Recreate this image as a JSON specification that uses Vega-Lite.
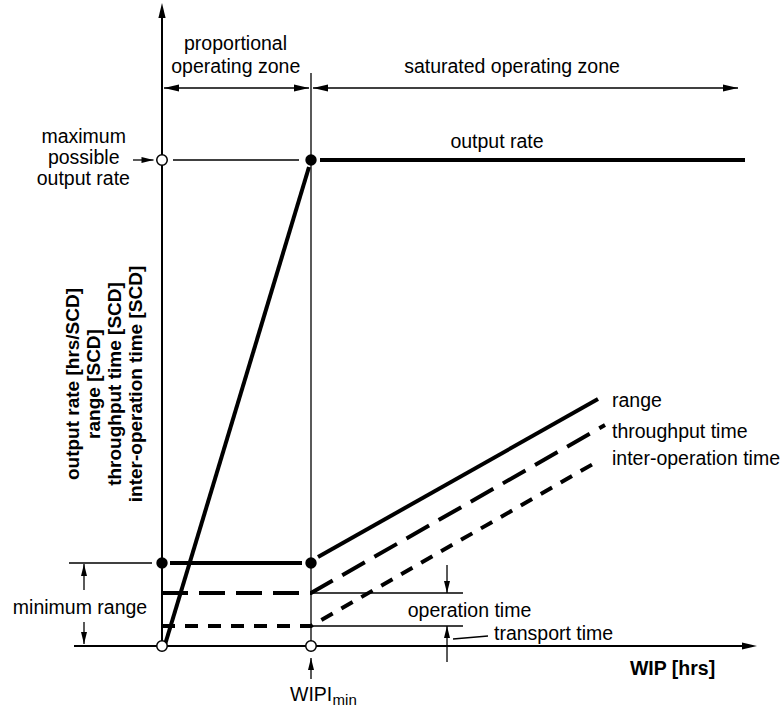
{
  "$schema": "https://vega.github.io/schema/vega-lite/v6.json",
  "width": 783,
  "height": 715,
  "padding": 0,
  "autosize": {"type": "none"},
  "background": "white",
  "config": {"view": {"stroke": null}},
  "datasets": {
    "segments": [
      {"role": "axis", "x": -5.906, "y": 0, "x2": 39.463, "y2": 0},
      {"role": "axis", "x": 0, "y": 0, "x2": 0, "y2": 12.984},
      {"role": "guide", "x": 10, "y": 11.79, "x2": 10, "y2": 0},
      {"role": "guide", "x": 0.738, "y": 10, "x2": 9.195, "y2": 10},
      {"role": "guide", "x": -6.242, "y": 1.708, "x2": -0.671, "y2": 1.708},
      {"role": "guide", "x": 10, "y": 1.0905, "x2": 20.2, "y2": 1.0905},
      {"role": "guide", "x": 10, "y": 0.4115, "x2": 20.2, "y2": 0.4115},
      {"role": "guide", "x": 19.53, "y": 0.144, "x2": 21.88, "y2": 0.206},
      {"role": "guide", "x": 0.134, "y": 11.481, "x2": 9.866, "y2": 11.481},
      {"role": "guide", "x": 10.134, "y": 11.481, "x2": 38.658, "y2": 11.481},
      {"role": "guide", "x": -1.946, "y": 10, "x2": -0.57, "y2": 10},
      {"role": "guide", "x": -5.235, "y": 1.152, "x2": -5.235, "y2": 1.687},
      {"role": "guide", "x": -5.235, "y": 0.494, "x2": -5.235, "y2": 0.041},
      {"role": "guide", "x": 19.128, "y": 1.667, "x2": 19.128, "y2": 1.0905},
      {"role": "guide", "x": 19.128, "y": -0.329, "x2": 19.128, "y2": 0.4115},
      {"role": "guide", "x": 10, "y": -0.679, "x2": 10, "y2": -0.247},
      {"role": "curve", "x": 10.604, "y": 10, "x2": 39.128, "y2": 10},
      {"role": "curve", "x": 0.537, "y": 1.708, "x2": 9.396, "y2": 1.708},
      {"role": "curve", "x": 10.47, "y": 1.831, "x2": 29.262, "y2": 5.082},
      {"role": "curve", "x": 0.134, "y": -0.041, "x2": 9.866, "y2": 9.856}
    ],
    "paths": [
      {"series": "throughput time", "order": 1, "x": 0, "y": 1.0905},
      {"series": "throughput time", "order": 2, "x": 10, "y": 1.0905},
      {"series": "throughput time", "order": 3, "x": 29.732, "y": 4.547},
      {"series": "inter-operation time", "order": 1, "x": 0, "y": 0.4115},
      {"series": "inter-operation time", "order": 2, "x": 10, "y": 0.4115},
      {"series": "inter-operation time", "order": 3, "x": 29.396, "y": 3.827}
    ],
    "heads": [
      {"role": "axis", "dir": "right", "x": 39.933, "y": 0},
      {"role": "axis", "dir": "up", "x": 0, "y": 13.23},
      {"role": "zone", "dir": "left", "x": 0.134, "y": 11.481},
      {"role": "zone", "dir": "right", "x": 9.866, "y": 11.481},
      {"role": "zone", "dir": "left", "x": 10.134, "y": 11.481},
      {"role": "zone", "dir": "right", "x": 38.658, "y": 11.481},
      {"role": "dimension", "dir": "right", "x": -0.57, "y": 10},
      {"role": "dimension", "dir": "up", "x": -5.235, "y": 1.687},
      {"role": "dimension", "dir": "down", "x": -5.235, "y": 0.041},
      {"role": "dimension", "dir": "down", "x": 19.128, "y": 1.0905},
      {"role": "dimension", "dir": "up", "x": 19.128, "y": 0.4115},
      {"role": "dimension", "dir": "up", "x": 10, "y": -0.247}
    ],
    "dots": [
      {"state": "open", "x": 0, "y": 0},
      {"state": "open", "x": 10, "y": 0},
      {"state": "open", "x": 0, "y": 10},
      {"state": "filled", "x": 10, "y": 10},
      {"state": "filled", "x": 0, "y": 1.708},
      {"state": "filled", "x": 10, "y": 1.708}
    ],
    "labels": [
      {"role": "centered", "text": "proportional", "x": 4.933, "y": 12.263},
      {"role": "centered", "text": "operating zone", "x": 4.95, "y": 11.796},
      {"role": "centered", "text": "saturated operating zone", "x": 23.49, "y": 11.79},
      {"role": "centered", "text": "output rate", "x": 22.483, "y": 10.247},
      {"role": "centered", "text": "maximum", "x": -5.255, "y": 10.356},
      {"role": "centered", "text": "possible", "x": -5.255, "y": 9.912},
      {"role": "centered", "text": "output rate", "x": -5.28, "y": 9.486},
      {"role": "centered", "text": "minimum range", "x": -5.503, "y": 0.658},
      {"role": "centered", "text": "operation time", "x": 20.638, "y": 0.597},
      {"role": "left", "text": "transport time", "x": 22.282, "y": 0.1235},
      {"role": "left", "text": "range", "x": 30.201, "y": 4.918},
      {"role": "left", "text": "throughput time", "x": 30.201, "y": 4.28},
      {"role": "left", "text": "inter-operation time", "x": 30.201, "y": 3.724},
      {"role": "left", "text": "WIPI", "x": 8.591, "y": -1.132},
      {"role": "subscript", "text": "min", "x": 11.45, "y": -1.215},
      {"role": "xtitle", "text": "WIP [hrs]", "x": 34.262, "y": -0.597},
      {"role": "ytitle", "text": "output rate [hrs/SCD]\nrange [SCD]\nthroughput time [SCD]\ninter-operation time [SCD]", "x": -5.953, "y": 5.391}
    ]
  },
  "encoding": {
    "x": {"field": "x", "type": "quantitative", "scale": {"domain": [-10.8725, 41.6779], "nice": false, "zero": false}, "axis": null},
    "y": {"field": "y", "type": "quantitative", "scale": {"domain": [-1.4198, 13.2922], "nice": false, "zero": false}, "axis": null}
  },
  "layer": [
    {
      "data": {"name": "segments"},
      "transform": [{"filter": "datum.role === 'guide'"}],
      "mark": {"type": "rule", "stroke": "#000", "strokeWidth": 1.3, "strokeCap": "butt"},
      "encoding": {"x2": {"field": "x2"}, "y2": {"field": "y2"}}
    },
    {
      "data": {"name": "segments"},
      "transform": [{"filter": "datum.role === 'axis'"}],
      "mark": {"type": "rule", "stroke": "#000", "strokeWidth": 2, "strokeCap": "butt"},
      "encoding": {"x2": {"field": "x2"}, "y2": {"field": "y2"}}
    },
    {
      "data": {"name": "segments"},
      "transform": [{"filter": "datum.role === 'curve'"}],
      "mark": {"type": "rule", "stroke": "#000", "strokeWidth": 4, "strokeCap": "butt"},
      "encoding": {"x2": {"field": "x2"}, "y2": {"field": "y2"}}
    },
    {
      "data": {"name": "paths"},
      "transform": [{"filter": "datum.series === 'throughput time'"}],
      "mark": {"type": "line", "stroke": "#000", "strokeWidth": 4, "strokeCap": "butt", "strokeDash": [26, 11]},
      "encoding": {"order": {"field": "order", "type": "quantitative"}}
    },
    {
      "data": {"name": "paths"},
      "transform": [{"filter": "datum.series === 'inter-operation time'"}],
      "mark": {"type": "line", "stroke": "#000", "strokeWidth": 4, "strokeCap": "butt", "strokeDash": [13, 10]},
      "encoding": {"order": {"field": "order", "type": "quantitative"}}
    },
    {
      "data": {"name": "heads"},
      "transform": [{"filter": "datum.role !== 'dimension'"}],
      "mark": {"type": "point", "shape": "M0,0L-1,-0.24L-1,0.24Z", "filled": true, "fill": "#000", "opacity": 1, "size": 900, "strokeWidth": 0},
      "encoding": {"angle": {"field": "dir", "type": "nominal", "scale": {"type": "ordinal", "domain": ["right", "down", "left", "up"], "range": [0, 90, 180, 270]}, "legend": null}}
    },
    {
      "data": {"name": "heads"},
      "transform": [{"filter": "datum.role === 'dimension'"}],
      "mark": {"type": "point", "shape": "M0,0L-1,-0.25L-1,0.25Z", "filled": true, "fill": "#000", "opacity": 1, "size": 576, "strokeWidth": 0},
      "encoding": {"angle": {"field": "dir", "type": "nominal", "scale": {"type": "ordinal", "domain": ["right", "down", "left", "up"], "range": [0, 90, 180, 270]}, "legend": null}}
    },
    {
      "data": {"name": "dots"},
      "transform": [{"filter": "datum.state === 'open'"}],
      "mark": {"type": "point", "shape": "circle", "filled": true, "fill": "white", "stroke": "#000", "strokeWidth": 1.5, "size": 110, "opacity": 1}
    },
    {
      "data": {"name": "dots"},
      "transform": [{"filter": "datum.state === 'filled'"}],
      "mark": {"type": "point", "shape": "circle", "filled": true, "fill": "#000", "size": 130, "opacity": 1}
    },
    {
      "data": {"name": "labels"},
      "transform": [{"filter": "datum.role === 'centered'"}],
      "mark": {"type": "text", "font": "Liberation Sans", "fontSize": 19.5, "align": "center", "baseline": "alphabetic", "fill": "#000"},
      "encoding": {"text": {"field": "text"}}
    },
    {
      "data": {"name": "labels"},
      "transform": [{"filter": "datum.role === 'left'"}],
      "mark": {"type": "text", "font": "Liberation Sans", "fontSize": 19.5, "align": "left", "baseline": "alphabetic", "fill": "#000"},
      "encoding": {"text": {"field": "text"}}
    },
    {
      "data": {"name": "labels"},
      "transform": [{"filter": "datum.role === 'subscript'"}],
      "mark": {"type": "text", "font": "Liberation Sans", "fontSize": 15, "align": "left", "baseline": "alphabetic", "fill": "#000"},
      "encoding": {"text": {"field": "text"}}
    },
    {
      "data": {"name": "labels"},
      "transform": [{"filter": "datum.role === 'xtitle'"}],
      "mark": {"type": "text", "font": "Liberation Sans", "fontSize": 19.5, "fontWeight": "bold", "align": "center", "baseline": "alphabetic", "fill": "#000"},
      "encoding": {"text": {"field": "text"}}
    },
    {
      "data": {"name": "labels"},
      "transform": [{"filter": "datum.role === 'ytitle'"}],
      "mark": {"type": "text", "font": "Liberation Sans", "fontSize": 19, "fontWeight": "bold", "align": "center", "baseline": "middle", "angle": 270, "lineBreak": "\n", "lineHeight": 21, "fill": "#000"},
      "encoding": {"text": {"field": "text"}}
    }
  ]
}
